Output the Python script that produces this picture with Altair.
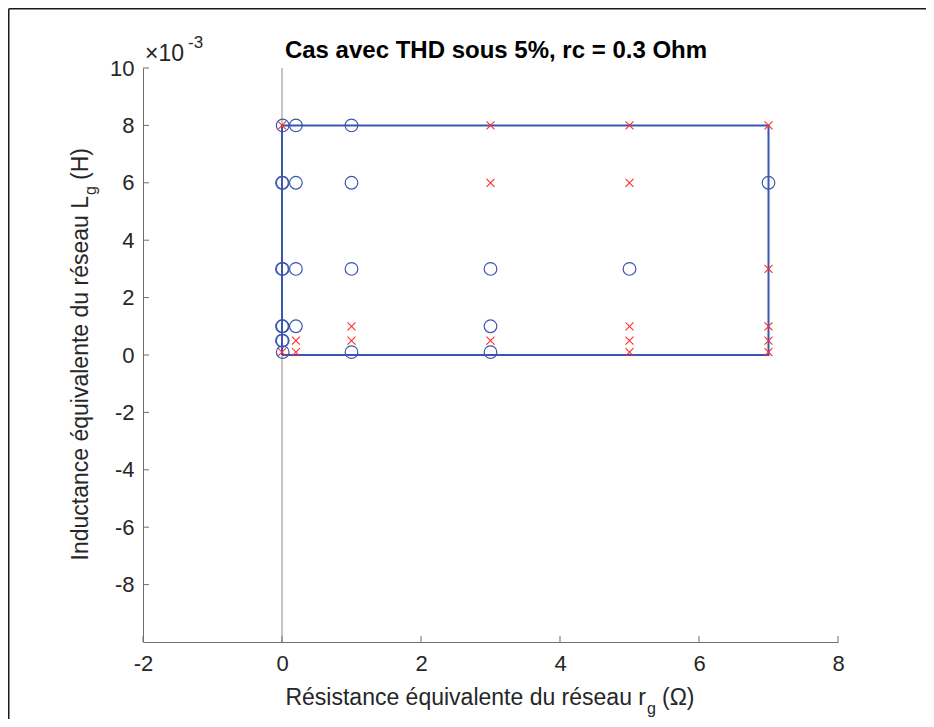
import altair as alt
import pandas as pd

# ---- data (Lg in henry) ----
rg_values = [0, 0.01, 0.2, 1, 3, 5, 7]
Lg_values = [0.0001, 0.0005, 0.001, 0.003, 0.006, 0.008]
# 1 = THD under 5 % (blue circle), 0 = red cross ; one list per rg, ordered like Lg_values
ok_rg_0 = [0, 1, 1, 1, 1, 0]
ok_rg_001 = [1, 1, 1, 1, 1, 1]
ok_rg_02 = [0, 0, 1, 1, 1, 1]
ok_rg_1 = [1, 0, 0, 1, 1, 1]
ok_rg_3 = [1, 0, 1, 1, 0, 0]
ok_rg_5 = [0, 0, 0, 1, 0, 0]
ok_rg_7 = [0, 0, 0, 0, 1, 0]
ok_lists = [ok_rg_0, ok_rg_001, ok_rg_02, ok_rg_1, ok_rg_3, ok_rg_5, ok_rg_7]

rect_rg = [0, 7, 7, 0, 0]
rect_Lg = [0, 0, 0.008, 0.008, 0]

x_ticks = [-2, 0, 2, 4, 6, 8]
y_ticks = [-8, -6, -4, -2, 0, 2, 4, 6, 8, 10]

rows = []
for rg, oks in zip(rg_values, ok_lists):
    for L, ok in zip(Lg_values, oks):
        rows.append({"rg": rg, "Lg": L, "ok": ok})
pts = pd.DataFrame(rows)
rect = pd.DataFrame({"rg": rect_rg, "Lg": rect_Lg, "o": list(range(len(rect_rg)))})

W, H = 695, 574
PR, PB = 88, 77
BLUE = "#3a56b0"
RED = "#ff2d2d"
TXT = "#262626"
FONT = "Liberation Sans"
LBL = "datum.value < 0 ? '-' + abs(datum.value) : '' + datum.value"

xs = alt.Scale(domain=[-2, 8], nice=False, zero=False)
ys = alt.Scale(domain=[-10, 10], nice=False, zero=False)
xax = alt.Axis(values=x_ticks, ticks=False, grid=False, title=None, labelFontSize=22,
               labelColor=TXT, labelFont=FONT, labelPadding=11, domainColor="#6f6f6f",
               labelFlush=False, labelExpr=LBL)
yax = alt.Axis(values=y_ticks, ticks=False, grid=False, title=None, labelFontSize=22,
               labelColor=TXT, labelFont=FONT, labelPadding=9, domainColor="#6f6f6f",
               labelFlush=False, labelExpr=LBL)

base = alt.Chart(pts).transform_calculate(yk="datum.Lg * 1000")

circles = base.transform_filter("datum.ok == 1").mark_point(
    shape="circle", filled=False, size=160, strokeWidth=1.2, color=BLUE, opacity=1
).encode(x=alt.X("rg:Q", scale=xs, axis=xax), y=alt.Y("yk:Q", scale=ys, axis=yax))

crosses = base.transform_filter("datum.ok == 0").mark_point(
    shape="M-1,-1L1,1M-1,1L1,-1", filled=False, size=64, strokeWidth=1.1, color=RED, opacity=1
).encode(x=alt.X("rg:Q", scale=xs), y=alt.Y("yk:Q", scale=ys))

box = alt.Chart(rect).transform_calculate(yk="datum.Lg * 1000").mark_line(
    color=BLUE, strokeWidth=2
).encode(x=alt.X("rg:Q", scale=xs), y=alt.Y("yk:Q", scale=ys), order="o:Q")

zero_line = alt.Chart(pd.DataFrame({"x0": [0]})).mark_rule(color="#8a8a8a", strokeWidth=1).encode(
    x=alt.X("x0:Q", scale=xs), y=alt.value(0), y2=alt.value(H))

xt = alt.Chart(pd.DataFrame({"t": x_ticks})).mark_rule(color="#6f6f6f", strokeWidth=1).encode(
    x=alt.X("t:Q", scale=xs), y=alt.value(H), y2=alt.value(H - 6))
yt = alt.Chart(pd.DataFrame({"t": y_ticks})).mark_rule(color="#6f6f6f", strokeWidth=1).encode(
    y=alt.Y("t:Q", scale=ys), x=alt.value(0), x2=alt.value(6))

one = pd.DataFrame({"a": [0]})


def txt(s, x, y, size, align="left", angle=0, bold=False, color=TXT):
    kw = dict(align=align, baseline="alphabetic", fontSize=size, font=FONT, color=color)
    if angle:
        kw["angle"] = angle
    if bold:
        kw["fontWeight"] = "bold"
    return alt.Chart(one).mark_text(**kw).encode(x=alt.value(x), y=alt.value(y), text=alt.value(s))


title = txt("Cas avec THD sous 5%, rc = 0.3 Ohm", 353, -10, 24, align="center", bold=True, color="#000000")
exp1 = txt("\u00d710", 2, -7, 23)
exp2 = txt("-3", 45, -20, 17)

PX = 503
xl1 = txt("R\u00e9sistance \u00e9quivalente du r\u00e9seau r", PX, 637, 23, align="right")
xl2 = txt("g", PX + 1, 646, 16)
xl3 = txt("(\u03a9)", PX + 16, 637, 23)

PY = 128
YX = -55
yl1 = txt("Inductance \u00e9quivalente du r\u00e9seau L", YX, PY, 23, align="right", angle=270)
yl2 = txt("g", YX + 8, PY - 1, 16, angle=270)
yl3 = txt("(H)", YX, PY - 16, 23, angle=270)

frame_left = alt.Chart(one).mark_rule(color="#1a1a1a", strokeWidth=1.5).encode(
    x=alt.value(-134.25), y=alt.value(-59.25), y2=alt.value(H + PB))
frame_top = alt.Chart(one).mark_rule(color="#1a1a1a", strokeWidth=1.5).encode(
    x=alt.value(-134.25), x2=alt.value(W + PR), y=alt.value(-59.25))

chart = alt.layer(
    zero_line, box, circles, crosses, xt, yt,
    title, exp1, exp2, xl1, xl2, xl3, yl1, yl2, yl3, frame_left, frame_top
).properties(
    width=W, height=H,
    padding={"left": 135, "top": 60, "right": PR, "bottom": PB},
    autosize=alt.AutoSizeParams(type="none"),
    background="white",
).configure_view(strokeWidth=0)

chart.save("out.html", embed_options={"renderer": "svg", "actions": False})
